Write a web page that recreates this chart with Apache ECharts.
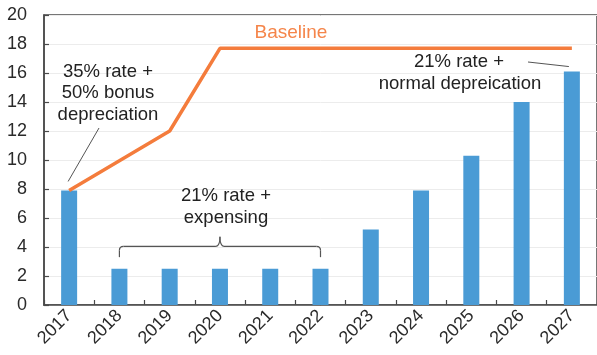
<!DOCTYPE html>
<html>
<head>
<meta charset="utf-8">
<script src="https://cdn.jsdelivr.net/npm/echarts@6/dist/echarts.min.js"></script>
<style>
  html, body { margin: 0; padding: 0; background: #fff; }
  #chart { width: 597px; height: 355px; }
</style>
</head>
<body>
<div id="chart"></div>
<script>
// Years on the category axis
const years = ['2017', '2018', '2019', '2020', '2021', '2022', '2023', '2024', '2025', '2026', '2027'];
// Bars: reform path
const reformValues = [7.9, 2.5, 2.5, 2.5, 2.5, 2.5, 5.2, 7.9, 10.3, 14.0, 16.1];
// Orange line: baseline path
const baselineValues = [7.9, 9.95, 12.0, 17.7, 17.7, 17.7, 17.7, 17.7, 17.7, 17.7, 17.7];
// Value axis range
const yMin = 0, yMax = 20, yStep = 2;

const FONT = '"Liberation Sans", Arial, Helvetica, sans-serif';
const chart = echarts.init(document.getElementById('chart'), null, { renderer: 'canvas' });

chart.setOption({
  animation: false,
  backgroundColor: '#fff',
  grid: {
    left: 44, top: 15, width: 556, bottom: 50,
    show: true, borderColor: '#4a4a4a', borderWidth: 1.5, backgroundColor: 'transparent'
  },
  xAxis: {
    type: 'category',
    data: years,
    boundaryGap: true,
    axisLine: { lineStyle: { color: '#4a4a4a', width: 1.5 } },
    axisTick: { show: true, inside: true, length: 5, alignWithLabel: false, lineStyle: { color: '#4a4a4a', width: 1.2 } },
    axisLabel: { rotate: 45, margin: 8, fontFamily: FONT, fontSize: 18, color: '#2a2a2a' },
    splitLine: { show: false }
  },
  yAxis: {
    type: 'value',
    min: yMin, max: yMax, interval: yStep,
    axisLine: { show: true, lineStyle: { color: '#4a4a4a', width: 1.5 } },
    axisTick: { show: true, inside: true, length: 5, lineStyle: { color: '#4a4a4a', width: 1.2 } },
    axisLabel: { margin: 17, fontFamily: FONT, fontSize: 18, color: '#2a2a2a' },
    splitLine: { show: true, lineStyle: { color: '#ececec', width: 1 } }
  },
  series: [
    {
      type: 'bar',
      data: reformValues,
      barWidth: 16,
      itemStyle: { color: '#4a9bd5' },
      z: 2
    },
    {
      type: 'line',
      data: baselineValues,
      symbol: 'none',
      lineStyle: { color: '#f47c3c', width: 3.5 },
      z: 3
    }
  ]
});

// Annotations: text, leader lines and the bracket over the expensing years
function px(cat, val) { return chart.convertToPixel({ gridIndex: 0 }, [cat, val]); }
const label = (x, y, text, color, size) => ({
  type: 'text', x: x, y: y, z: 10,
  style: { text: text, fill: color || '#222', font: (size || 18.5) + 'px ' + FONT, align: 'center', verticalAlign: 'middle' }
});
const seg = (x1, y1, x2, y2, w) => ({
  type: 'line', z: 10,
  shape: { x1: x1, y1: y1, x2: x2, y2: y2 },
  style: { stroke: '#555', lineWidth: w || 1.2 }
});
const curve = (x1, y1, cx, cy, x2, y2) => ({
  type: 'bezierCurve', z: 10,
  shape: { x1: x1, y1: y1, cpx1: cx, cpy1: cy, x2: x2, y2: y2 },
  style: { stroke: '#555', lineWidth: 1.2, fill: null }
});

const bx0 = px('2018', 0)[0], bx1 = px('2022', 0)[0], bmid = (bx0 + bx1) / 2;
const byTop = px('2018', 4.05)[1], byEnd = px('2018', 3.3)[1], byTip = px('2018', 4.7)[1];
const r = 4;

const barTop2017 = px('2017', reformValues[0]);
const barTop2027 = px('2027', reformValues[10]);

chart.setOption({
  graphic: [
    label(291, 33, 'Baseline', '#f5854a', 19),
    label(108, 72, '35% rate +'),
    label(108, 93, '50% bonus'),
    label(108, 115, 'depreciation'),
    label(226, 196, '21% rate +'),
    label(226, 218, 'expensing'),
    label(459, 62, '21% rate +'),
    label(460, 84, 'normal depreication'),
    seg(99, 128, barTop2017[0] - 1, barTop2017[1] - 9, 1),
    seg(528, 62, barTop2027[0] - 3, barTop2027[1] - 5, 1),
    // bracket
    seg(bx0, byEnd, bx0, byTop + r),
    curve(bx0, byTop + r, bx0, byTop, bx0 + r, byTop),
    seg(bx0 + r, byTop, bmid - r, byTop),
    curve(bmid - r, byTop, bmid, byTop, bmid, byTip),
    curve(bmid, byTip, bmid, byTop, bmid + r, byTop),
    seg(bmid + r, byTop, bx1 - r, byTop),
    curve(bx1 - r, byTop, bx1, byTop, bx1, byTop + r),
    seg(bx1, byTop + r, bx1, byEnd)
  ]
});
</script>
</body>
</html>
